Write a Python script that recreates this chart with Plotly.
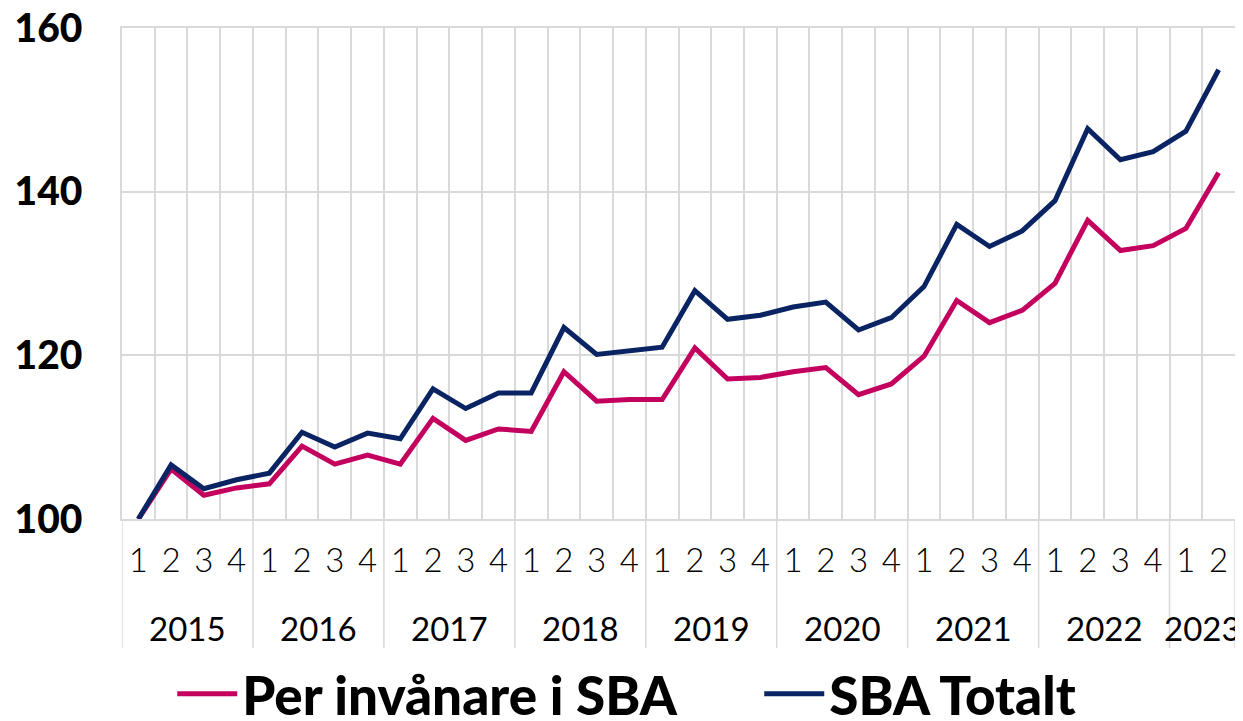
import plotly.graph_objects as go

years = ["2015"] * 4 + ["2016"] * 4 + ["2017"] * 4 + ["2018"] * 4 + ["2019"] * 4 + \
        ["2020"] * 4 + ["2021"] * 4 + ["2022"] * 4 + ["2023"] * 2
quarters = ["1", "2", "3", "4"] * 8 + ["1", "2"]
year_labels = ["2015", "2016", "2017", "2018", "2019", "2020", "2021", "2022", "2023"]

per_invanare = [100.0, 106.1, 102.9, 103.8, 104.3, 108.9, 106.7, 107.8,
                106.7, 112.3, 109.6, 111.0, 110.7, 118.0, 114.4, 114.6,
                114.6, 120.9, 117.1, 117.3, 118.0, 118.5, 115.2, 116.5,
                119.9, 126.7, 124.0, 125.5, 128.8, 136.5, 132.8, 133.4,
                135.5, 142.3]
sba_totalt = [100.0, 106.6, 103.7, 104.8, 105.6, 110.6, 108.8, 110.5,
              109.8, 115.9, 113.5, 115.4, 115.4, 123.4, 120.1, 120.6,
              121.0, 127.9, 124.4, 124.9, 125.9, 126.5, 123.1, 124.6,
              128.4, 136.0, 133.3, 135.2, 138.9, 147.7, 143.9, 144.9,
              147.4, 154.9]

x_idx = list(range(len(quarters)))
grid = "#d9d9d9"
fam = "Lato"

fig = go.Figure()
fig.add_trace(go.Scatter(x=x_idx, y=per_invanare, mode="lines",
                         name="Per invånare i SBA", legend="legend",
                         line=dict(color="#c4005f", width=5)))
fig.add_trace(go.Scatter(x=x_idx, y=sba_totalt, mode="lines",
                         name="SBA Totalt", legend="legend2",
                         line=dict(color="#0a2463", width=5)))

# year group labels and dividers
shapes = []
annotations = []
for yl in year_labels:
    idx = [i for i, y in enumerate(years) if y == yl]
    annotations.append(dict(x=sum(idx) / len(idx), y=-0.222, xref="x", yref="paper",
                            text=yl, showarrow=False, yanchor="middle",
                            font=dict(size=33, family=fam, color="black")))
    shapes.append(dict(type="line", xref="x", yref="paper", x0=idx[0] - 0.5, x1=idx[0] - 0.5,
                       y0=0, y1=-0.263, line=dict(color=grid, width=1.5)))
shapes.append(dict(type="line", xref="x", yref="paper", x0=len(years) - 0.5, x1=len(years) - 0.5,
                   y0=0, y1=-0.263, line=dict(color=grid, width=1.5)))

legend_common = dict(orientation="h", xanchor="left", xref="container",
                     y=0.038, yanchor="middle", yref="container",
                     font=dict(size=53, family=fam, weight=900),
                     itemwidth=60, bgcolor="rgba(0,0,0,0)")

fig.update_layout(
    width=1235, height=713,
    margin=dict(l=114, r=8, t=20, b=202, autoexpand=False),
    paper_bgcolor="white", plot_bgcolor="white",
    font=dict(family=fam, color="black"),
    showlegend=True,
    legend=dict(x=0.133, **legend_common),
    legend2=dict(x=0.6083, **legend_common),
    shapes=shapes,
    annotations=annotations,
    xaxis=dict(range=[-0.5, len(years) - 0.5], tickmode="array", tickvals=x_idx,
               ticktext=quarters, showgrid=False, ticks="",
               showline=True, linecolor=grid, linewidth=1.5, mirror=True,
               zeroline=False, automargin=False, ticklabelstandoff=12,
               tickfont=dict(size=33, family=fam, weight=300),
               minor=dict(tick0=-0.5, dtick=1, showgrid=True, gridcolor=grid,
                          gridwidth=1.5, ticks="")),
    yaxis=dict(range=[100, 160], tickvals=[100, 120, 140, 160],
               showgrid=True, gridcolor=grid, gridwidth=1.5,
               zeroline=False, showline=True, linecolor=grid, linewidth=1.5,
               mirror=True, ticks="", automargin=False, ticklabeloverflow="allow",
               tickfont=dict(size=39, family=fam, weight=900),
               ticklabelstandoff=30),
)

fig.write_html("out.html")
